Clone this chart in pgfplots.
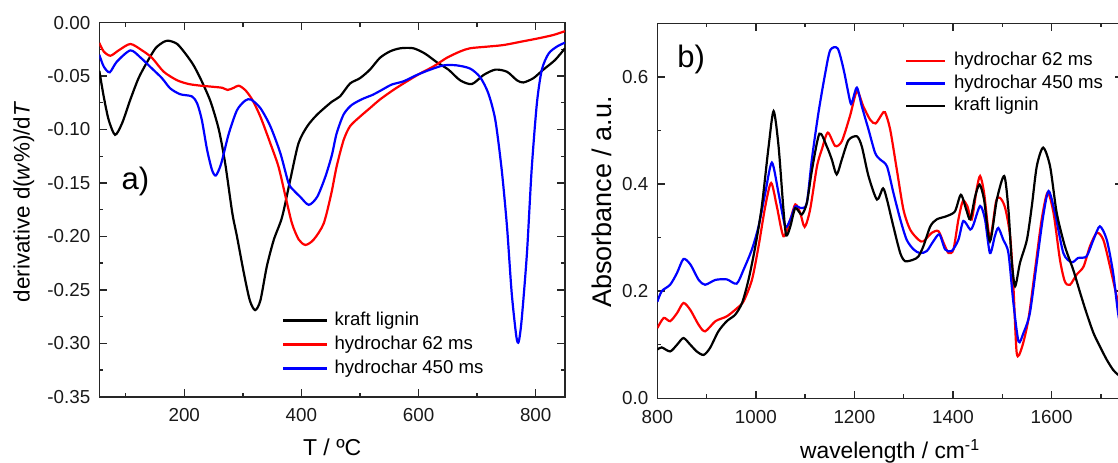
\documentclass[border=0pt]{standalone}
\usepackage{fontspec}
\setmainfont{Liberation Sans}
\usepackage{pgfplots}
\pgfplotsset{compat=1.18}

\pgfplotsset{
  panel/.style={
    scale only axis, width=232.85pt,
    anchor=south west,
    axis line style={line width=0.8pt, black!85},
    tick style={line width=0.7pt, black!85},
    major tick length=3.8pt, minor tick length=2pt,
    tick align=inside,
    ticklabel style={font=\fontsize{9.4}{11}\selectfont, black!90},
    xticklabel style={yshift=-2.5pt},
    yticklabel style={xshift=-1pt},
    every axis plot/.append style={line width=1.1pt, smooth, tension=0.45},
    legend cell align=left,
  },
}

\begin{document}
\begin{tikzpicture}
\useasboundingbox (0,0) rectangle (559pt,231pt);
\clip (0,0) rectangle (559pt,231pt);

% ---------- a) derivative thermogravimetry
\begin{axis}[panel,
    at={(49.65pt,32.65pt)}, height=187.05pt,
    xmin=55, xmax=850, ymin=-0.35, ymax=0,
    xtick={200,400,600,800}, xticklabels={200,400,600,800},
    minor xtick={100,300,500,700},
    ytick={-0.35,-0.3,-0.25,-0.2,-0.15,-0.1,-0.05,0},
    yticklabels={-0.35,-0.30,-0.25,-0.20,-0.15,-0.10,-0.05,0.00},
    minor ytick={-0.325,-0.275,-0.225,-0.175,-0.125,-0.075,-0.025},
    xlabel={T / ºC},
    xlabel style={at={(axis description cs:0.5,-0.135)}, anchor=center, font=\fontsize{11.5}{13}\selectfont},
    ylabel={derivative d(\textit{w}\%)/d\textit{T}},
    ylabel style={at={(axis description cs:-0.1623,0.521)}, anchor=center, font=\fontsize{11.2}{13}\selectfont},
    legend image code/.code={\draw[#1, sharp plot] (0pt,0pt) -- (21.8pt,0pt);},
    legend style={at={(axis description cs:0.393,0.2276)}, anchor=north west,
      draw=none, fill=none, inner sep=0pt, outer sep=0pt, row sep=3pt,
      font=\fontsize{9.3}{11}\selectfont,
      nodes={inner sep=0pt, text height=7pt, text depth=2pt},
      /tikz/every odd column/.append style={column sep=3.2pt}},
  ]
  \addplot[black] coordinates {
    (55,-0.045) (62.5,-0.069) (71,-0.091) (82,-0.105) (94,-0.094) (108,-0.072)
    (122,-0.052) (136.5,-0.037) (151,-0.024) (165,-0.018) (174,-0.017) (188,-0.020)
    (202,-0.029) (216,-0.040) (230,-0.055) (245,-0.074) (259,-0.100) (270,-0.132)
    (282,-0.178) (290,-0.200) (302,-0.235) (312,-0.260) (321,-0.269) (330,-0.260)
    (341,-0.228) (353,-0.203) (367,-0.182) (381,-0.147) (395,-0.113) (410,-0.097)
    (427,-0.086) (452,-0.074) (466,-0.069) (483,-0.057) (500,-0.052) (517,-0.044)
    (534,-0.033) (551,-0.027) (569,-0.024) (591,-0.024) (611,-0.029) (631,-0.037)
    (651,-0.044) (671,-0.054) (691,-0.0575) (711,-0.049) (731,-0.044) (751,-0.046)
    (768,-0.054) (779,-0.056) (796,-0.052) (813,-0.044) (833,-0.035) (850,-0.024)
  };
  \addlegendentry{kraft lignin}
  \addplot[red] coordinates {
    (55,-0.019) (62.5,-0.027) (74,-0.031) (88,-0.026) (108,-0.020) (128,-0.026)
    (145,-0.033) (165,-0.046) (188,-0.054) (208,-0.0575) (228,-0.059) (248,-0.060)
    (265,-0.061) (274,-0.063) (284.5,-0.061) (293,-0.059) (304,-0.063) (316,-0.072)
    (330,-0.088) (347,-0.113) (361,-0.135) (373,-0.163) (384,-0.188) (395.5,-0.203)
    (407,-0.208) (421,-0.203) (438,-0.188) (451,-0.160) (460,-0.135) (472,-0.110)
    (483,-0.097) (500,-0.088) (517,-0.080) (534,-0.072) (557,-0.063) (580,-0.055)
    (603,-0.0475) (625.5,-0.041) (648,-0.033) (671,-0.027) (688,-0.024) (717,-0.0225)
    (745,-0.021) (773.5,-0.018) (802,-0.015) (830,-0.0116) (850,-0.008)
  };
  \addlegendentry{hydrochar 62 ms}
  \addplot[blue] coordinates {
    (55,-0.030) (62.5,-0.041) (72.7,-0.0465) (85,-0.0365) (108,-0.026) (125,-0.0325)
    (145,-0.043) (162,-0.052) (176,-0.0615) (193,-0.067) (213,-0.069) (222,-0.0755)
    (230,-0.091) (239,-0.119) (247.5,-0.138) (254,-0.143) (263,-0.132) (276,-0.104)
    (290,-0.082) (304,-0.073) (314,-0.072) (330,-0.080) (347,-0.097) (364,-0.122)
    (378,-0.150) (387,-0.157) (398,-0.163) (412.6,-0.1705) (427,-0.163) (441,-0.144)
    (452,-0.124) (460,-0.104) (472,-0.086) (486,-0.077) (506,-0.071) (520,-0.068)
    (534,-0.064) (554,-0.058) (574,-0.055) (597,-0.049) (620,-0.044) (643,-0.040)
    (665,-0.040) (688,-0.043) (705,-0.051) (719,-0.066) (731,-0.091) (742,-0.138)
    (751,-0.191) (759,-0.253) (767,-0.294) (771,-0.2985) (776,-0.278) (785,-0.216)
    (793,-0.138) (802,-0.0755) (810.5,-0.044) (822,-0.029) (836,-0.0225) (850,-0.0187)
  };
  \addlegendentry{hydrochar 450 ms}
  \node[font=\fontsize{15.5}{17}\selectfont] at (axis cs:116.5,-0.149) {a)};
\end{axis}

% ---------- b) absorbance spectra
\begin{axis}[panel,
    at={(328.65pt,31.85pt)}, height=187.5pt,
    xmin=800, xmax=1745, ymin=0, ymax=0.7,
    xtick={800,1000,1200,1400,1600}, xticklabels={800,1000,1200,1400,1600},
    minor xtick={900,1100,1300,1500,1700},
    ytick={0,0.2,0.4,0.6}, yticklabels={0.0,0.2,0.4,0.6},
    minor ytick={0.1,0.3,0.5},
    xlabel={wavelength / cm\textsuperscript{-1}},
    xlabel style={at={(axis description cs:0.5,-0.141)}, anchor=center, font=\fontsize{11.4}{13}\selectfont},
    ylabel={Absorbance / a.u.},
    ylabel style={at={(axis description cs:-0.12,0.524)}, anchor=center, font=\fontsize{13.5}{15}\selectfont},
    legend image code/.code={\draw[#1, sharp plot] (0pt,0pt) -- (19.2pt,0pt);},
    legend style={at={(axis description cs:0.532,0.9236)}, anchor=north west,
      draw=none, fill=none, inner sep=0pt, outer sep=0pt, row sep=2.25pt,
      font=\fontsize{9.3}{11}\selectfont,
      nodes={inner sep=0pt, text height=7pt, text depth=2pt},
      /tikz/every odd column/.append style={column sep=4.2pt}},
  ]
  \addplot[red] coordinates {
    (800,0.131) (813,0.150) (826,0.144) (840,0.159) (853,0.178) (867,0.165)
    (884,0.137) (897,0.125) (918,0.144) (941,0.153) (961.5,0.168) (975,0.181)
    (992,0.221) (1005.5,0.284) (1019,0.358) (1031,0.402) (1042.6,0.358) (1056,0.3025)
    (1070,0.334) (1080,0.362) (1090,0.346) (1099,0.320) (1110,0.352) (1124,0.433)
    (1134,0.465) (1146,0.496) (1161,0.471) (1174.5,0.480) (1191,0.527) (1205,0.573)
    (1218,0.545) (1232,0.520) (1243,0.513) (1255.6,0.530) (1262,0.534) (1272.5,0.502)
    (1286,0.427) (1299.5,0.352) (1313,0.315) (1330,0.296) (1340,0.293) (1357,0.309)
    (1370.5,0.312) (1381,0.290) (1391,0.271) (1401,0.278) (1411,0.334) (1420,0.368)
    (1429,0.359) (1438,0.334) (1448,0.390) (1455,0.415) (1463,0.384) (1475,0.299)
    (1487.5,0.368) (1495.6,0.374) (1505.7,0.356) (1516,0.3025) (1522.6,0.209) (1529.4,0.084)
    (1539.5,0.094) (1553,0.147) (1566.5,0.240) (1580,0.334) (1592,0.384) (1604,0.346)
    (1617,0.259) (1627,0.218) (1637.5,0.212) (1651,0.231) (1665,0.246) (1678,0.284)
    (1692,0.309) (1705,0.296) (1718.6,0.246) (1735,0.178) (1745,0.13)
  };
  \addlegendentry{hydrochar 62 ms}
  \addplot[blue] coordinates {
    (800,0.180) (809,0.200) (826,0.212) (840,0.234) (853,0.260) (867,0.250)
    (884,0.221) (897,0.212) (918,0.221) (941,0.222) (961,0.214) (975,0.240)
    (992,0.278) (1005.5,0.321) (1019,0.383) (1032.5,0.440) (1046,0.383) (1059.5,0.321)
    (1070,0.334) (1080,0.358) (1093,0.355) (1103.5,0.365) (1113.6,0.446) (1127,0.533)
    (1141,0.608) (1151,0.650) (1166,0.653) (1178,0.614) (1191,0.555) (1195,0.552)
    (1205,0.580) (1215,0.545) (1228.5,0.502) (1242,0.458) (1252,0.446) (1266,0.433)
    (1279,0.384) (1293,0.334) (1306,0.296) (1320,0.278) (1333,0.271) (1347,0.275)
    (1360,0.293) (1372.5,0.306) (1384,0.278) (1397.5,0.275) (1411,0.296) (1421,0.331)
    (1435,0.315) (1441.5,0.324) (1455,0.359) (1465,0.334) (1475,0.271) (1485,0.303)
    (1492,0.318) (1502,0.296) (1512.5,0.271) (1522.6,0.178) (1533,0.106) (1543,0.122)
    (1556,0.159) (1570,0.253) (1583,0.340) (1594,0.387) (1607,0.346) (1624,0.271)
    (1641,0.254) (1654,0.262) (1671,0.265) (1685,0.296) (1698,0.321) (1712,0.296)
    (1725,0.234) (1735,0.159) (1745,0.11)
  };
  \addlegendentry{hydrochar 450 ms}
  \addplot[black] coordinates {
    (800,0.091) (809,0.095) (826,0.0875) (840,0.100) (853,0.1125) (867,0.100)
    (880,0.0875) (894,0.081) (907,0.094) (924,0.125) (941,0.144) (958,0.156)
    (972,0.178) (985,0.221) (999,0.284) (1012,0.358) (1026,0.471) (1036,0.536)
    (1046,0.471) (1056,0.352) (1061.6,0.304) (1070,0.321) (1080,0.355) (1093,0.343)
    (1103.5,0.365) (1114,0.427) (1129,0.494) (1144,0.470) (1154,0.446) (1164,0.418)
    (1174.5,0.446) (1188,0.482) (1205,0.489) (1215,0.470) (1228.5,0.415) (1245.7,0.371)
    (1258,0.392) (1266,0.371) (1279,0.321) (1293,0.271) (1303,0.256) (1320,0.259)
    (1330,0.265) (1340,0.284) (1354,0.321) (1367,0.334) (1387,0.340) (1404,0.349)
    (1416,0.380) (1427,0.352) (1435,0.334) (1445,0.377) (1454,0.399) (1463,0.371)
    (1475,0.293) (1489,0.371) (1504,0.415) (1512.5,0.352) (1519,0.259) (1526,0.209)
    (1536,0.253) (1550,0.296) (1560,0.359) (1570,0.433) (1583,0.468) (1597,0.433)
    (1610.5,0.346) (1627,0.284) (1644,0.240) (1658,0.197) (1671,0.159) (1685,0.122)
    (1698,0.097) (1712,0.072) (1725,0.053) (1735,0.044) (1745,0.038)
  };
  \addlegendentry{kraft lignin}
  \node[font=\fontsize{15.5}{17}\selectfont] at (axis cs:868.6,0.633) {b)};
\end{axis}
\end{tikzpicture}
\end{document}
